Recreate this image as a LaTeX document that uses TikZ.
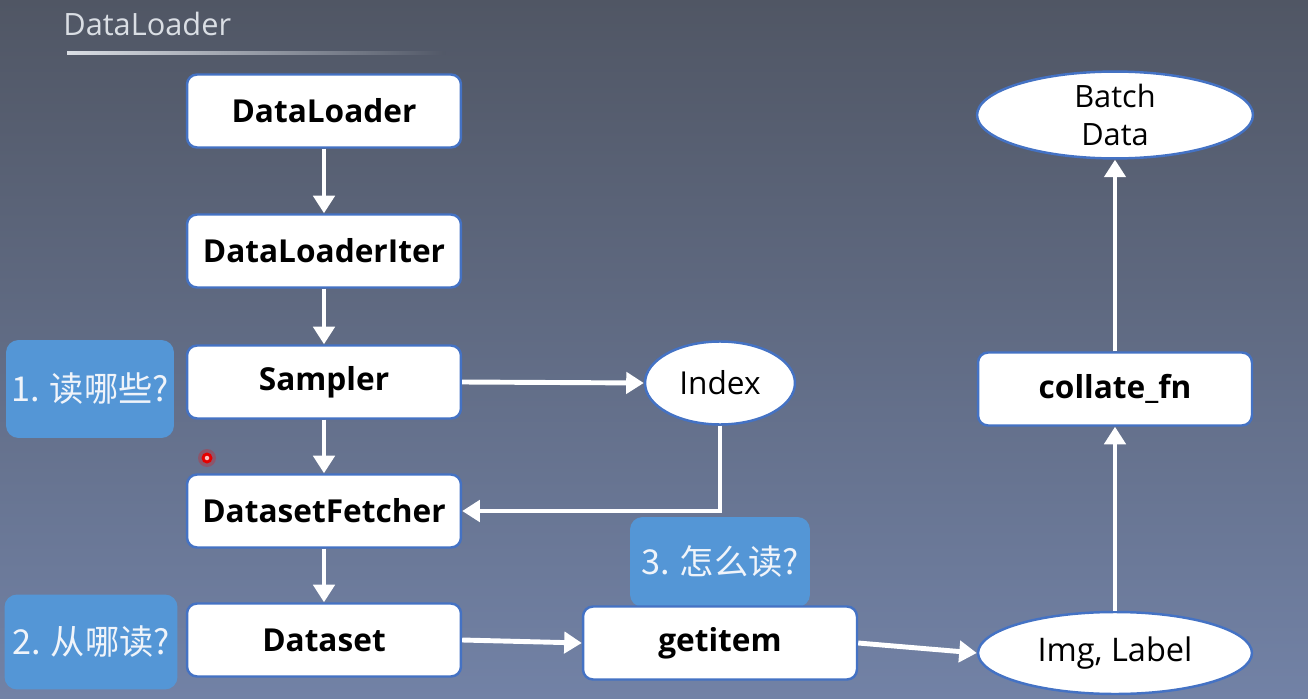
\documentclass[tikz,border=0pt]{standalone}
\usepackage{fontspec}
\setmainfont{Open Sans}
\newfontfamily\cjk{Noto Sans CJK SC}
\usetikzlibrary{arrows.meta,shapes.geometric}
\definecolor{bgtop}{RGB}{80,86,100}
\definecolor{bgbot}{RGB}{114,130,166}
\definecolor{boxedge}{RGB}{68,114,196}
\definecolor{tagfill}{RGB}{84,150,214}
\definecolor{titlegray}{RGB}{218,222,228}
\definecolor{tagtext}{RGB}{240,244,250}
\begin{document}
\begin{tikzpicture}[x=0.02cm,y=-0.02cm,
  box/.style={draw=boxedge, line width=1.4pt, fill=white, rounded corners=0.2cm,
    minimum width=5.48cm, minimum height=1.46cm, inner sep=0pt,
    font=\bfseries\fontsize{18}{22}\selectfont},
  oval/.style={ellipse, draw=boxedge, line width=1.4pt, fill=white, inner sep=0pt,
    font=\fontsize{17.5}{21.5}\selectfont, align=center},
  tag/.style={fill=tagfill, rounded corners=0.25cm, inner sep=0pt, text=tagtext,
    font=\cjk\fontsize{19.5}{23}\selectfont},
  arrow/.style={white, line width=2.8pt, -{Triangle[width=12pt,length=10pt]}}]
\useasboundingbox (0,0) rectangle (1308,699);
\shade[top color=bgtop, bottom color=bgbot] (0,0) rectangle (1308,699);
% title
\node[anchor=base west, inner sep=0pt, text=titlegray, font=\fontsize{17.5}{20}\selectfont] (title) at (63,36) {DataLoader};
\shade[left color=titlegray, right color=bgtop!95!bgbot] (67,51.5) rectangle (445,54.5);
% tags
\node[tag, minimum width=3.36cm, minimum height=1.96cm] (tag1) at (90,389) {1. 读哪些?};
\node[tag, minimum width=3.46cm, minimum height=1.9cm] (tag2) at (91,642) {2. 从哪读?};
\node[tag, minimum width=3.6cm, minimum height=1.8cm] (tag3) at (720,562) {3. 怎么读?};
% boxes
\node[box] (dl) at (324,111) {DataLoader};
\node[box] (dli) at (324,251) {DataLoaderIter};
\node[box] (sam) at (324,382) {Sampler};
\node[box] (fet) at (324,511) {DatasetFetcher};
\node[box] (ds) at (324,640) {Dataset};
\node[box] (get) at (720,643) {getitem};
\node[box] (col) at (1115,389) {collate\_fn};
% ellipses
\node[oval, minimum width=3cm, minimum height=1.66cm, font=\fontsize{18}{21}\selectfont] (idx) at (720,383) {Index};
\node[oval, minimum width=5.48cm, minimum height=1.64cm, font=\fontsize{18.5}{22}\selectfont] (img) at (1115,653) {Img, Label};
\node[oval, minimum width=5.52cm, minimum height=1.66cm] (bat) at (1115,115) {Batch\\Data};
% arrows
\draw[arrow] (dl) -- (dli);
\draw[arrow] (dli) -- (sam);
\draw[arrow] (sam) -- (fet);
\draw[arrow] (fet) -- (ds);
\draw[arrow] (sam.east) -- (idx.west);
\draw[arrow] (idx.south) |- (fet.east);
\draw[arrow] (ds.east) -- (get.west);
\draw[arrow] (get.east) -- (img.west);
\draw[arrow] (img) -- (col);
\draw[arrow] (col) -- (bat);
% pointer dot
\fill[red, opacity=0.25] (207,458) circle (0.18cm);
\fill[red!90!black] (207,458) circle (0.11cm);
\fill[red!25] (207,458) circle (0.045cm);
\end{tikzpicture}
\end{document}
